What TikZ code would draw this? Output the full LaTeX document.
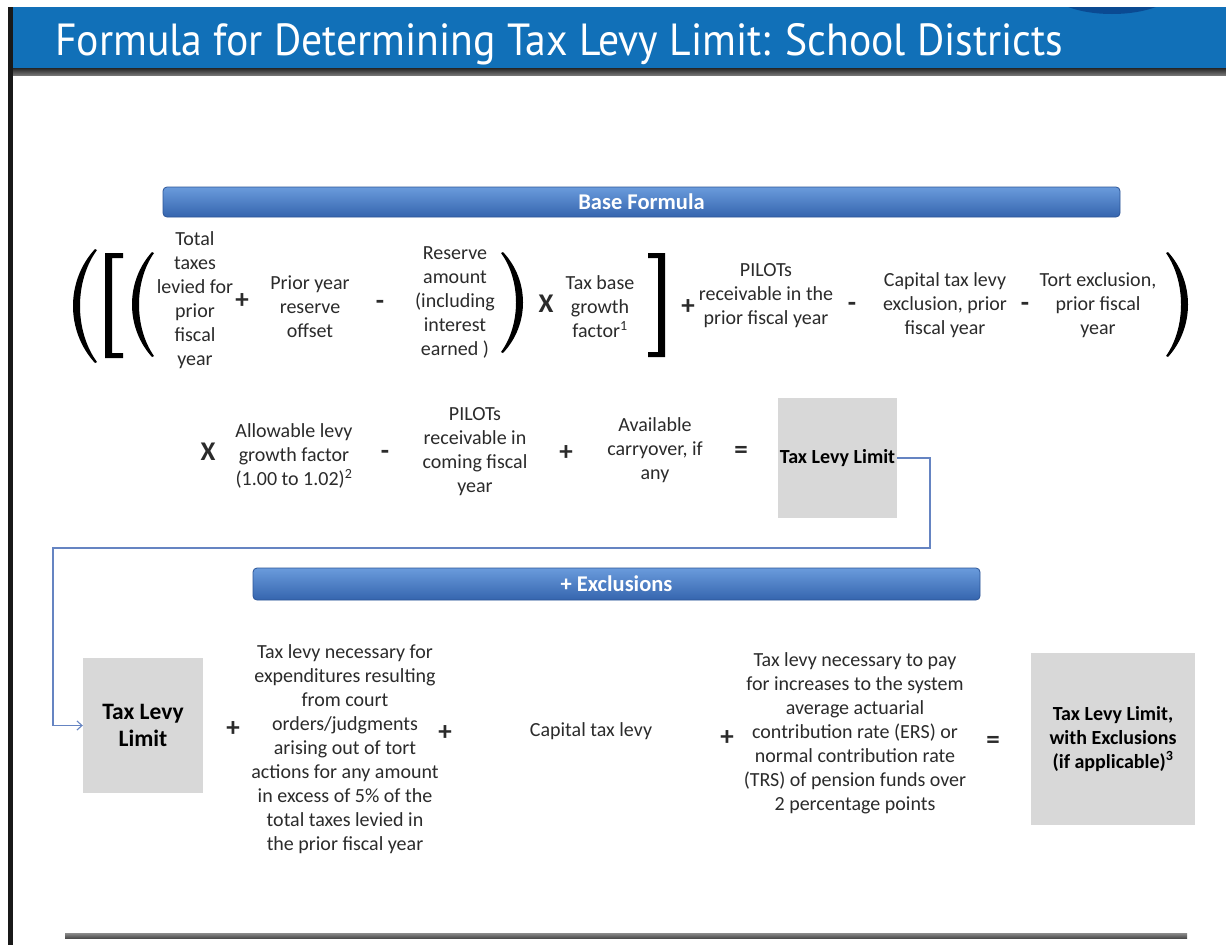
\documentclass[tikz,border=0pt]{standalone}
\usepackage{fontspec}
\setmainfont{Carlito}
\newfontfamily\titlefont{PT Sans}
\usetikzlibrary{arrows.meta}

\definecolor{bannerblue}{HTML}{1170B8}
\definecolor{bannerdark}{HTML}{0A4A92}
\definecolor{bartop}{HTML}{6A9BDC}
\definecolor{barbot}{HTML}{3565AE}
\definecolor{barline}{HTML}{2C5597}
\definecolor{boxgray}{HTML}{D8D8D8}
\definecolor{txtgray}{HTML}{2B2B2B}
\definecolor{connblue}{HTML}{6584C2}

\tikzset{
  txt/.style={align=center, inner sep=0pt, text=txtgray,
    font=\fontsize{20}{24}\selectfont},
  op/.style={inner sep=0pt, text=txtgray, font=\fontsize{27}{27}\selectfont\bfseries},
  headbar/.style={rounded corners=4pt, draw=barline, line width=0.8pt,
    top color=bartop, bottom color=barbot, text=white, inner sep=0pt,
    font=\fontsize{22.5}{24}\selectfont\bfseries},
  graybox/.style={fill=boxgray, inner sep=0pt, align=center, text=black,
    font=\fontsize{20}{24}\selectfont\bfseries},
  conn/.style={draw=connblue, line width=1.1pt},
}

% left-opening parenthesis: left extreme, tip x, top, bottom
\newcommand\mkLparen[4]{%
  \fill[black] (#2,#3) .. controls ({(8*#1-2*#2)/6},{#3+0.28*(#4-#3)}) and ({(8*#1-2*#2)/6},{#3+0.72*(#4-#3)}) .. (#2,#4)
    -- ({#2+2},{#4-1}) .. controls ({(8*(#1+7)-2*(#2+2))/6},{#3+0.72*(#4-#3)}) and ({(8*(#1+7)-2*(#2+2))/6},{#3+0.28*(#4-#3)}) .. ({#2+2},{#3+1}) -- cycle;}
% right-closing parenthesis: tip x, right extreme, top, bottom
\newcommand\mkRparen[4]{%
  \fill[black] (#1,#3) .. controls ({(8*#2-2*#1)/6},{#3+0.28*(#4-#3)}) and ({(8*#2-2*#1)/6},{#3+0.72*(#4-#3)}) .. (#1,#4)
    -- ({#1-2},{#4-1}) .. controls ({(8*(#2-7)-2*(#1-2))/6},{#3+0.72*(#4-#3)}) and ({(8*(#2-7)-2*(#1-2))/6},{#3+0.28*(#4-#3)}) .. ({#1-2},{#3+1}) -- cycle;}

\begin{document}
\begin{tikzpicture}[x=1pt, y=-1pt]
\useasboundingbox (0,0) rectangle (1226,945);
\fill[white] (0,0) rectangle (1226,945);

% title banner
\begin{scope}
  \clip (12,7) rectangle (1226,69);
  \fill[bannerblue] (12,7) rectangle (1226,69);
  \fill[bannerdark] (1112,-10) ellipse (62pt and 24pt);
\end{scope}
\shade[top color=black!85, bottom color=black!55] (12,68) rectangle (1226,75);
\node[anchor=base west, inner sep=0pt, text=white] (title) at (55,55)
  {\resizebox{1008pt}{\height}{\titlefont\fontsize{45}{45}\selectfont Formula for Determining Tax Levy Limit: School Districts}};

% page frame: left rule and bottom rule
\fill[black!90] (8,7) rectangle (13,945);
\shade[top color=black!45, bottom color=black!70] (65,933) rectangle (1187,938);

% ---------- base formula ----------
\node[headbar, minimum width=957pt, minimum height=30pt] (basebar) at (641.5,202) {Base Formula};

\mkLparen{73}{95}{249}{363}
\fill[black] (123,253) -- (105,253) -- (105,358) -- (123,358) -- (123,353) -- (112,353) -- (112,258) -- (123,258) -- cycle;
\mkLparen{132}{152}{252}{357}

\node[txt] (total) at (195,300) {Total\\taxes\\levied for\\prior\\fiscal\\year};
\node[op] (p1) at (242,301) {+};
\node[txt] (offset) at (310,307) {Prior year\\reserve\\offset};
\node[op] (m1) at (380,305) {-};
\node[txt] (reserve) at (455,302) {Reserve\\amount\\(including\\interest\\earned )};

\mkRparen{503}{523}{252}{353}
\node[op] (x1) at (546,304) {X};
\node[txt] (taxbase) at (600,307) {Tax base\\growth\\factor\textsuperscript{1}};
\fill[black] (648,253) -- (665,253) -- (665,357) -- (648,357) -- (648,352) -- (658,352) -- (658,258) -- (648,258) -- cycle;

\node[op] (p2) at (688,307) {+};
\node[txt] (pilotprior) at (766,296) {PILOTs\\receivable in the\\prior fiscal year};
\node[op] (m2) at (852,307) {-};
\node[txt] (capprior) at (945,305) {Capital tax levy\\exclusion, prior\\fiscal year};
\node[op] (m3) at (1025,307) {-};
\node[txt] (tort) at (1098,305) {Tort exclusion,\\prior fiscal\\year};
\mkRparen{1168}{1188}{252}{357}

% second line
\node[op] (x2) at (208,452) {X};
\node[txt] (growth) at (294,456) {Allowable levy\\growth factor\\(1.00 to 1.02)\textsuperscript{2}};
\node[op] (m4) at (385,455) {-};
\node[txt] (pilotcoming) at (475,452) {PILOTs\\receivable in\\coming fiscal\\year};
\node[op] (p3) at (566,453) {+};
\node[txt] (carry) at (655,450) {Available\\carryover, if\\any};
\node[op] (eq1) at (741,452) {=};
\node[graybox, minimum width=119pt, minimum height=120pt] (limit) at (837.5,458) {Tax Levy Limit};

% ---------- exclusions ----------
\node[headbar, minimum width=727pt, minimum height=32pt] (exclbar) at (616.5,584) {+ Exclusions};

\node[graybox, minimum width=120pt, minimum height=135pt, font=\fontsize{23.5}{27}\selectfont\bfseries] (limit2) at (143,725.5) {Tax Levy\\Limit};
\node[op] (p4) at (233,729) {+};
\node[txt] (court) at (345,749) {Tax levy necessary for\\expenditures resulting\\from court\\orders/judgments\\arising out of tort\\actions for any amount\\in excess of 5\% of the\\total taxes levied in\\the prior fiscal year};
\node[op] (p5) at (445,733) {+};
\node[txt] (capital) at (591,731) {Capital tax levy};
\node[op] (p6) at (727,738) {+};
\node[txt] (pension) at (855,733) {Tax levy necessary to pay\\for increases to the system\\average actuarial\\contribution rate (ERS) or\\normal contribution rate\\(TRS) of pension funds over\\2 percentage points};
\node[op] (eq2) at (993,742) {=};
\node[graybox, minimum width=164pt, minimum height=172pt] (limitexcl) at (1113,739) {Tax Levy Limit,\\with Exclusions\\(if applicable)\textsuperscript{3}};

% carry the limit down into the exclusions line
\coordinate (turnR) at (930,548);
\coordinate (turnL) at (53,548);
\draw[conn, -{Straight Barb[length=5pt, width=9pt]}] (limit.east) -| (turnR) -- (turnL) |- (limit2.west);
\end{tikzpicture}
\end{document}
